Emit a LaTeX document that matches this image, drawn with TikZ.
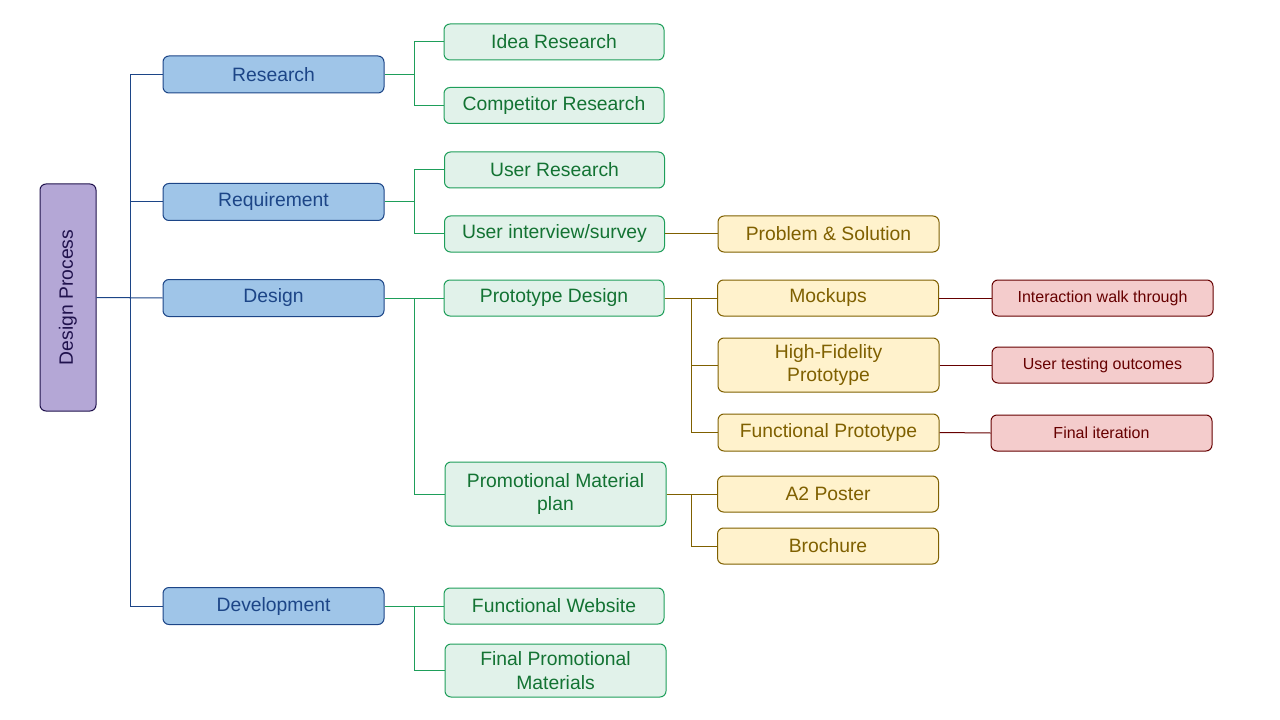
\documentclass[tikz,border=0pt]{standalone}
\usepackage{fontspec}
\setmainfont{Liberation Sans}
\usetikzlibrary{positioning}
\definecolor{rootfill}{HTML}{B4A7D6}
\definecolor{rootline}{HTML}{20124D}
\definecolor{bluefill}{HTML}{9FC5E8}
\definecolor{blueline}{HTML}{1C4587}
\definecolor{greenfill}{HTML}{E1F2EA}
\definecolor{greenline}{HTML}{1E9E5A}
\definecolor{greentext}{HTML}{137333}
\definecolor{yellowfill}{HTML}{FFF2CC}
\definecolor{yellowline}{HTML}{7F6000}
\definecolor{redfill}{HTML}{F4CCCC}
\definecolor{redline}{HTML}{660000}
\tikzset{
  box/.style={draw, rounded corners=4.5pt, line width=0.75pt, align=center,
    inner sep=2pt, font=\fontsize{14.5}{17.5}\selectfont},
  rootbox/.style={box, fill=rootfill, draw=rootline, text=rootline,
    minimum width=227*0.75pt, minimum height=56*0.75pt, rotate=90},
  bluebox/.style={box, fill=bluefill, draw=blueline, text=blueline,
    minimum width=221*0.75pt, minimum height=37*0.75pt},
  greenbox/.style={box, fill=greenfill, draw=greenline, text=greentext,
    minimum width=220*0.75pt, minimum height=36*0.75pt},
  yellowbox/.style={box, fill=yellowfill, draw=yellowline, text=yellowline,
    minimum width=221*0.75pt, minimum height=36*0.75pt},
  redbox/.style={box, fill=redfill, draw=redline, text=redline,
    minimum width=221*0.75pt, minimum height=36*0.75pt,
    font=\fontsize{12}{14}\selectfont},
  link/.style={line width=0.75pt}
}
\begin{document}
\begin{tikzpicture}[x=0.75pt,y=-0.75pt]
\useasboundingbox (0,0) rectangle (1280,720);
\node[rootbox] (root) at (68,297.5) {Design Process};

\node[bluebox] (res) at (273.5,74.5) {Research};
\node[bluebox] (req) at (273.5,202) {Requirement};
\node[bluebox] (des) at (273.5,298) {Design};
\node[bluebox] (dev) at (273.5,606) {Development};

\node[greenbox] (idea) at (554,42) {Idea Research};
\node[greenbox] (comp) at (554,105.5) {Competitor Research};
\node[greenbox] (user) at (554.5,170) {User Research};
\node[greenbox] (intv) at (554.5,234) {User interview/survey};
\node[greenbox] (proto) at (554,298) {Prototype Design};
\node[greenbox, minimum height=64*0.75pt, minimum width=221*0.75pt] (promo) at (555.5,494) {Promotional Material\\plan};
\node[greenbox] (web) at (554,606) {Functional Website};
\node[greenbox, minimum height=53*0.75pt, minimum width=221*0.75pt] (final) at (555.5,670.5) {Final Promotional\\Materials};

\node[yellowbox] (prob) at (828.5,234) {Problem \& Solution};
\node[yellowbox] (mock) at (828,298) {Mockups};
\node[yellowbox, minimum height=54*0.75pt] (hifi) at (828.5,365) {High-Fidelity\\Prototype};
\node[yellowbox, minimum height=37*0.75pt] (func) at (828.5,432.5) {Functional Prototype};
\node[yellowbox] (poster) at (828,494) {A2 Poster};
\node[yellowbox] (broch) at (828,546) {Brochure};

\node[redbox] (walk) at (1102.5,298) {Interaction walk through};
\node[redbox] (test) at (1102.5,365) {User testing outcomes};
\node[redbox] (iter) at (1101.5,433) {Final iteration};

\draw[link, blueline] (root.south) -- ++(34,0) |- (res.west);
\draw[link, blueline] (root.south) -- ++(34,0) |- (req.west);
\draw[link, blueline] (root.south) -- (des.west);
\draw[link, blueline] (root.south) -- ++(34,0) |- (dev.west);

\draw[link, greenline] (res.east) -- ++(30,0) |- (idea.west);
\draw[link, greenline] (res.east) -- ++(30,0) |- (comp.west);
\draw[link, greenline] (req.east) -- ++(30,0) |- (user.west);
\draw[link, greenline] (req.east) -- ++(30,0) |- (intv.west);
\draw[link, greenline] (des.east) -- (proto.west);
\draw[link, greenline] (des.east) -- ++(30,0) |- (promo.west);
\draw[link, greenline] (dev.east) -- (web.west);
\draw[link, greenline] (dev.east) -- ++(30,0) |- (final.west);

\draw[link, yellowline] (intv.east) -- (prob.west);
\draw[link, yellowline] (proto.east) -- (mock.west);
\draw[link, yellowline] (proto.east) -- ++(27,0) |- (hifi.west);
\draw[link, yellowline] (proto.east) -- ++(27,0) |- (func.west);
\draw[link, yellowline] (promo.east) -- (poster.west);
\draw[link, yellowline] (promo.east) -- ++(25,0) |- (broch.west);

\draw[link, redline] (mock.east) -- (walk.west);
\draw[link, redline] (hifi.east) -- (test.west);
\draw[link, redline] (func.east) -- (iter.west);
\end{tikzpicture}
\end{document}
